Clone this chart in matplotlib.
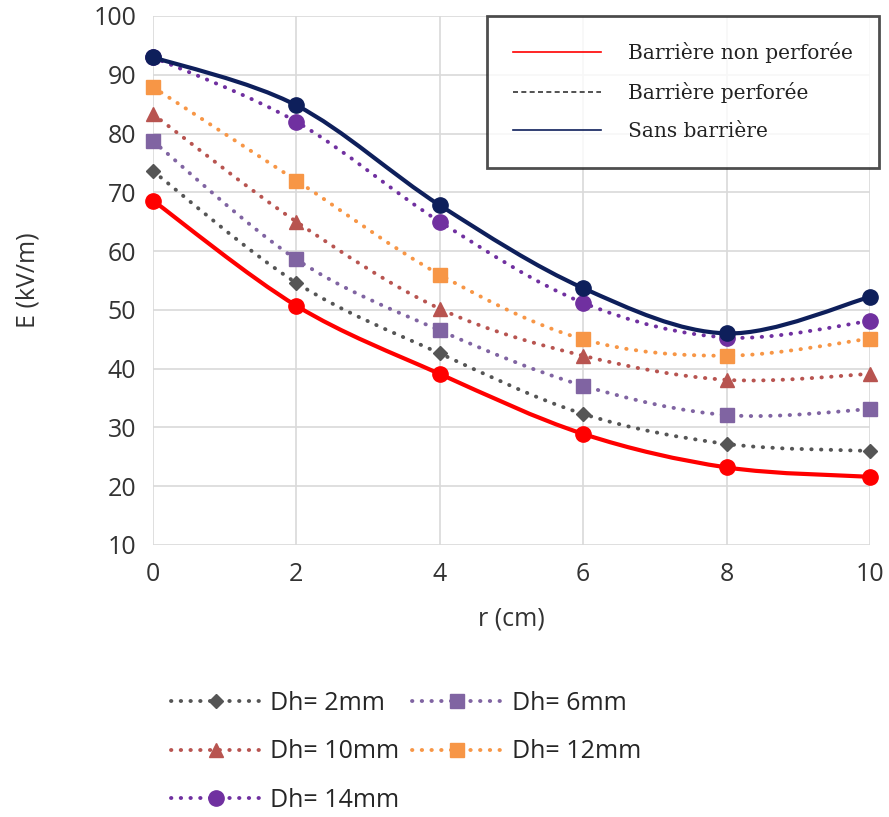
import matplotlib

matplotlib.use("Agg")
import matplotlib.pyplot as plt  # noqa: E402
import numpy as np  # noqa: E402
from matplotlib.lines import Line2D  # noqa: E402
from matplotlib.path import Path  # noqa: E402
from matplotlib.patches import PathPatch  # noqa: E402

R_CM = [0, 2, 4, 6, 8, 10]

E_NON_PERFOREE = [68.6, 50.7, 39.1, 28.9, 23.2, 21.6]
E_SANS_BARRIERE = [93.0, 84.8, 67.8, 53.7, 46.0, 52.2]
E_DH2 = [73.6, 54.6, 42.6, 32.3, 27.2, 26.0]
E_DH6 = [78.7, 58.6, 46.5, 37.1, 32.1, 33.1]
E_DH10 = [83.3, 65.0, 50.2, 42.2, 38.1, 39.1]
E_DH12 = [87.9, 72.0, 56.0, 45.0, 42.2, 45.1]
E_DH14 = [93.0, 82.0, 65.0, 51.2, 45.3, 48.1]

DH_LABELS = ["Dh= 2mm", "Dh= 6mm", "Dh= 10mm", "Dh= 12mm", "Dh= 14mm"]
DH_VALUES = [E_DH2, E_DH6, E_DH10, E_DH12, E_DH14]
DH_COLORS = ["#555555", "#8064A2", "#B85450", "#F79646", "#7030A0"]
DH_MARKERS = ["D", "s", "^", "s", "o"]
DH_MSIZE = [7, 10, 10, 10, 11]

TOP_LABELS = ["Barrière non perforée", "Barrière perforée", "Sans barrière"]

RED = "#FF0000"
NAVY = "#0E1F5B"
TXT = "#333333"


def smooth_path(xs, ys):
    """Excel-like smoothed line: cubic Bezier segments through the points."""
    pts = np.column_stack([xs, ys]).astype(float)
    n = len(pts)
    verts = [pts[0]]
    codes = [Path.MOVETO]
    for i in range(n - 1):
        p0 = pts[max(i - 1, 0)]
        p1 = pts[i]
        p2 = pts[i + 1]
        p3 = pts[min(i + 2, n - 1)]
        c1 = p1 + (p2 - p0) / 6.0
        c2 = p2 - (p3 - p1) / 6.0
        verts += [c1, c2, p2]
        codes += [Path.CURVE4] * 3
    return Path(verts, codes)


def draw_series(ax, ys, color, lw, ls, marker, ms, zorder):
    patch = PathPatch(smooth_path(R_CM, ys), facecolor="none", edgecolor=color,
                      linewidth=lw, linestyle=ls, capstyle="round",
                      zorder=zorder)
    ax.add_patch(patch)
    ax.plot(R_CM, ys, linestyle="none", marker=marker, markersize=ms,
            color=color, markeredgecolor=color, zorder=zorder + 0.5,
            clip_on=False)


fig = plt.figure(figsize=(8.89, 8.17), dpi=100)
ax = fig.add_axes([153 / 889, 1 - 545 / 817, 717 / 889, 529 / 817])

dotted = (0, (0.1, 2.4))
draw_series(ax, E_NON_PERFOREE, RED, 3, "-", "o", 11, 5)
for ys, c, m, ms in zip(DH_VALUES, DH_COLORS, DH_MARKERS, DH_MSIZE):
    draw_series(ax, ys, c, 2.8, dotted, m, ms, 4)
draw_series(ax, E_SANS_BARRIERE, NAVY, 3, "-", "o", 11, 6)

ax.set_xlim(0, 10)
ax.set_ylim(10, 100)
ax.set_xticks(range(0, 11, 2))
ax.set_yticks(range(10, 101, 10))
ax.grid(True, color="#D9D9D9", linewidth=1.2)
ax.set_axisbelow(True)
for s in ax.spines.values():
    s.set_visible(False)
ax.tick_params(length=0, labelsize=18, colors=TXT, pad=12)
for lbl in ax.get_xticklabels() + ax.get_yticklabels():
    lbl.set_fontfamily("Open Sans")
ax.set_xlabel("r (cm)", fontsize=18, family="Open Sans", color=TXT,
              labelpad=14)
ax.set_ylabel("E (kV/m)", fontsize=18, family="Open Sans", color=TXT,
              labelpad=38)

# legend inside the plot: line types
top_handles = [
    Line2D([], [], color=RED, lw=1.2),
    Line2D([], [], color="#333333", lw=1.2, ls=(0, (3, 2))),
    Line2D([], [], color=NAVY, lw=1.2),
]
leg1 = ax.legend(top_handles, TOP_LABELS, loc="upper right",
                 bbox_to_anchor=(1.012, 1.0), frameon=True, fancybox=False,
                 prop={"family": "DejaVu Serif", "size": 14.5},
                 handlelength=4.4, handletextpad=1.3, labelspacing=0.95,
                 borderpad=1.3, borderaxespad=0)
leg1.get_frame().set_edgecolor("#222222")
leg1.get_frame().set_linewidth(2)
leg1.set_zorder(10)
for t in leg1.get_texts():
    t.set_color("#222222")

# legend below the plot: hole diameters
dh_handles = [
    Line2D([], [], color=c, lw=2.8, ls=(0, (0.1, 2.4)), dash_capstyle="round",
           marker=m, markersize=ms)
    for c, m, ms in zip(DH_COLORS, DH_MARKERS, DH_MSIZE)
]
order = [0, 2, 4, 1, 3]
leg2 = fig.legend([dh_handles[i] for i in order],
                  [DH_LABELS[i] for i in order],
                  loc="upper left", bbox_to_anchor=(148 / 889, 1 - 668 / 817),
                  ncol=2, frameon=False,
                  prop={"family": "Open Sans", "size": 18},
                  handlelength=3.6, handletextpad=0.4, labelspacing=0.95,
                  columnspacing=0.5)
for t in leg2.get_texts():
    t.set_color("#262626")

fig.savefig("out.png", dpi=100, facecolor="white")
